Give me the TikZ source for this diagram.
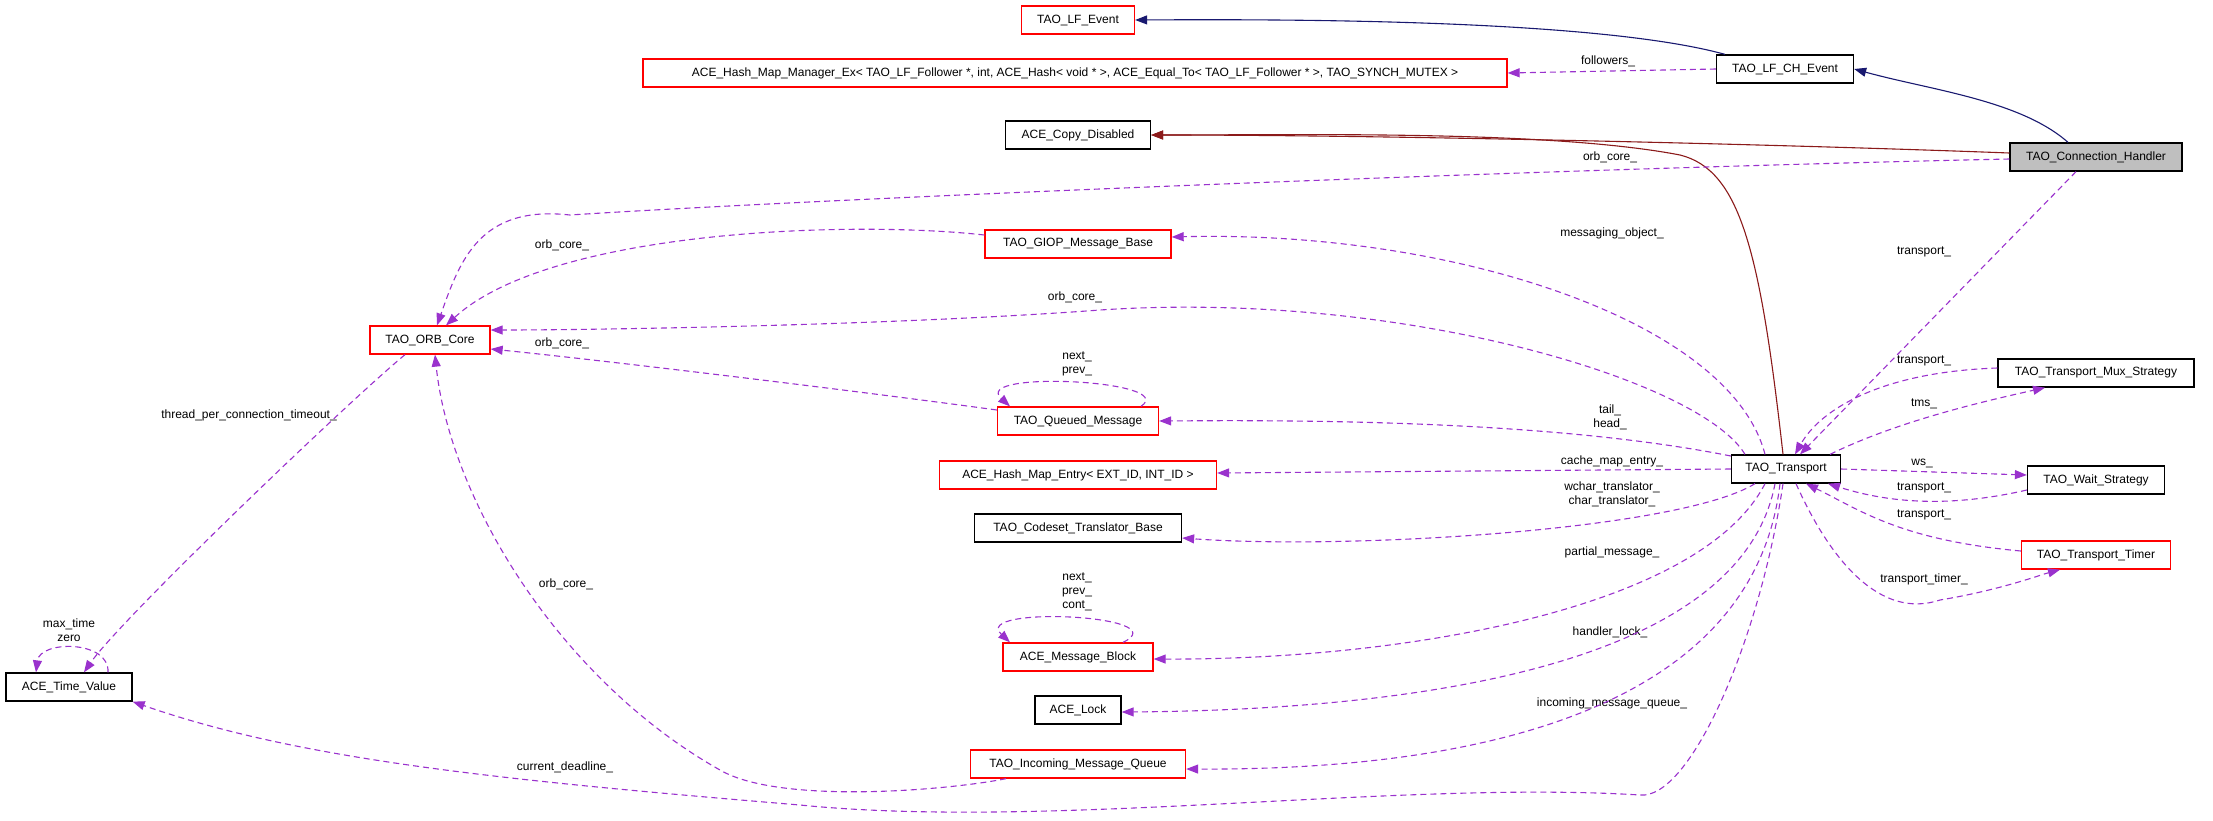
\documentclass[tikz,border=0pt]{standalone}
\usepackage{fontspec}
\setmainfont{Liberation Sans}
\usetikzlibrary{arrows.meta}
\definecolor{pur}{HTML}{9A32CD}
\definecolor{nav}{HTML}{191970}
\definecolor{drd}{HTML}{8B1A1A}
\tikzset{
  box/.style={draw=black,line width=1.3pt,inner sep=0pt,minimum height=28pt,font=\fontsize{12}{14}\selectfont},
  rbox/.style={box,draw=red},
  lbl/.style={font=\fontsize{12}{14}\selectfont,inner sep=0pt},
  uses/.style={pur,dashed,dash pattern=on 6pt off 4pt,line width=1.1pt,-{Triangle[length=12pt,width=9pt]}},
  inh/.style={nav,line width=1.1pt,-{Triangle[length=12pt,width=9pt]}},
  inr/.style={drd,line width=1.1pt,-{Triangle[length=12pt,width=9pt]}},
}
\begin{document}
\begin{tikzpicture}[x=1pt,y=-1pt]
\useasboundingbox (0,0) rectangle (2213,820);
% nodes
\node[rbox,minimum width=113pt] (lfe) at (1078,20) {TAO\_LF\_Event};
\node[rbox,minimum width=864pt] (hmm) at (1075,73) {ACE\_Hash\_Map\_Manager\_Ex< TAO\_LF\_Follower *, int, ACE\_Hash< void * >, ACE\_Equal\_To< TAO\_LF\_Follower * >, TAO\_SYNCH\_MUTEX >};
\node[box,minimum width=137pt] (lfch) at (1785,69) {TAO\_LF\_CH\_Event};
\node[box,minimum width=145pt] (acd) at (1078,135) {ACE\_Copy\_Disabled};
\node[box,fill=black!25,minimum width=172pt] (ch) at (2096,157) {TAO\_Connection\_Handler};
\node[rbox,minimum width=186pt] (giop) at (1078,244) {TAO\_GIOP\_Message\_Base};
\node[rbox,minimum width=120pt] (orb) at (430,340) {TAO\_ORB\_Core};
\node[box,minimum width=196pt] (mux) at (2096,373) {TAO\_Transport\_Mux\_Strategy};
\node[rbox,minimum width=161pt] (qm) at (1078,421) {TAO\_Queued\_Message};
\node[box,minimum width=109pt] (tr) at (1786,469) {TAO\_Transport};
\node[rbox,minimum width=277pt] (hme) at (1078,475) {ACE\_Hash\_Map\_Entry< EXT\_ID, INT\_ID >};
\node[box,minimum width=137pt] (ws) at (2096,480) {TAO\_Wait\_Strategy};
\node[box,minimum width=207pt] (cs) at (1078,528) {TAO\_Codeset\_Translator\_Base};
\node[rbox,minimum width=149pt] (tt) at (2096,555) {TAO\_Transport\_Timer};
\node[rbox,minimum width=150pt] (mb) at (1078,657) {ACE\_Message\_Block};
\node[box,minimum width=86pt] (lk) at (1078,710) {ACE\_Lock};
\node[rbox,minimum width=215pt] (imq) at (1078,764) {TAO\_Incoming\_Message\_Queue};
\node[box,minimum width=126pt] (tv) at (69,687) {ACE\_Time\_Value};
% labels
\node[lbl] (l1) at (1608,61) {followers\_};
\node[lbl] (l2) at (1610,157) {orb\_core\_};
\node[lbl] (l3) at (562,245) {orb\_core\_};
\node[lbl] (l4) at (1612,233) {messaging\_object\_};
\node[lbl] (l5) at (1075,297) {orb\_core\_};
\node[lbl] (l6) at (562,343) {orb\_core\_};
\node[lbl,align=center] (l7) at (1077,364) {next\_\\prev\_};
\node[lbl] (l8) at (1924,252) {transport\_};
\node[lbl] (l9) at (1924,361) {transport\_};
\node[lbl] (l10) at (1924,404) {tms\_};
\node[lbl,align=center] (l11) at (1610,417) {tail\_\\head\_};
\node[lbl] (l12) at (249,415) {thread\_per\_connection\_timeout\_};
\node[lbl] (l13) at (1612,461) {cache\_map\_entry\_};
\node[lbl] (l14) at (1922,463) {ws\_};
\node[lbl] (l15) at (1924,488) {transport\_};
\node[lbl,align=center] (l16) at (1612,494) {wchar\_translator\_\\char\_translator\_};
\node[lbl] (l17) at (1924,515) {transport\_};
\node[lbl] (l18) at (1612,552) {partial\_message\_};
\node[lbl,align=center] (l19) at (1077,592) {next\_\\prev\_\\cont\_};
\node[lbl] (l20) at (1924,579) {transport\_timer\_};
\node[lbl] (l21) at (566,584) {orb\_core\_};
\node[lbl,align=center] (l22) at (69,630) {max\_time\\zero};
\node[lbl] (l23) at (1610,632) {handler\_lock\_};
\node[lbl] (l24) at (1612,703) {incoming\_message\_queue\_};
\node[lbl] (l25) at (565,767) {current\_deadline\_};
% inheritance
\draw[inh] ([xshift=-28pt]ch.north) .. controls (2020,100) and (1930,90) .. (lfch.east);
\draw[inh] ([xshift=-60pt]lfch.north) .. controls (1600,20) and (1300,19) .. (lfe.east);
\draw[inr] ([yshift=4pt]ch.west) .. controls (1800,145) and (1400,135) .. (acd.east);
\draw[inr] ([xshift=-3pt]tr.north) .. controls (1760,250) and (1740,170) .. (1680,155) .. controls (1550,130) and (1300,135) .. (acd.east);
% usage
\draw[uses] (lfch.west) -- (hmm.east);
\draw[uses] ([yshift=-2pt]ch.west) .. controls (1500,170) and (800,200) .. (570,215) .. controls (480,205) and (460,260) .. ([xshift=7pt]orb.north);
\draw[uses] ([xshift=-20pt]ch.south) -- ([xshift=14pt]tr.north);
\draw[uses] ([yshift=9pt]giop.west) .. controls (850,220) and (550,230) .. ([xshift=16pt]orb.north);
\draw[uses] ([xshift=-21pt]tr.north) .. controls (1730,320) and (1450,230) .. ([yshift=7pt]giop.east);
\draw[uses] ([xshift=-41pt]tr.north) .. controls (1700,380) and (1400,290) .. (1100,310) .. controls (900,325) and (600,330) .. ([yshift=10pt]orb.east);
\draw[uses] ([yshift=11pt]qm.west) .. controls (850,390) and (600,360) .. ([yshift=-9pt]orb.east);
\draw[uses] ([xshift=63pt]qm.north) .. controls (1180,380) and (970,370) .. ([xshift=-68pt]qm.north);
\draw[uses] ([yshift=13pt]tr.west) .. controls (1550,420) and (1300,420) .. (qm.east);
\draw[uses] (tr.west) -- ([yshift=2pt]hme.east);
\draw[uses] ([xshift=-31pt]tr.south) .. controls (1680,530) and (1350,550) .. ([yshift=-10pt]cs.east);
\draw[uses] ([xshift=-21pt]tr.south) .. controls (1700,610) and (1400,660) .. ([yshift=-2pt]mb.east);
\draw[uses] ([xshift=45pt]mb.north) .. controls (1180,615) and (970,605) .. ([xshift=-68pt]mb.north);
\draw[uses] ([xshift=-11pt]tr.south) .. controls (1740,670) and (1400,710) .. ([yshift=-2pt]lk.east);
\draw[uses] ([xshift=-6pt]tr.south) .. controls (1750,740) and (1400,770) .. ([yshift=-5pt]imq.east);
\draw[uses] ([xshift=-3pt]tr.south) .. controls (1760,640) and (1690,800) .. (1640,795) .. controls (1400,780) and (1050,830) .. (800,805) .. controls (500,780) and (300,760) .. ([yshift=0pt]tv.south east);
\draw[uses] ([xshift=-72pt]imq.south) .. controls (950,790) and (780,805) .. (720,770) .. controls (560,680) and (450,500) .. ([xshift=5pt]orb.south);
\draw[uses] ([xshift=-25pt]orb.south) .. controls (350,400) and (120,620) .. ([xshift=15pt]tv.north);
\draw[uses] ([xshift=39pt]tv.north) .. controls (110,640) and (40,640) .. ([xshift=-33pt]tv.north);
\draw[uses] ([xshift=44pt]tr.north) .. controls (1900,420) and (1990,400) .. ([xshift=-51pt]mux.south);
\draw[uses] ([yshift=5pt]mux.west) .. controls (1880,372) and (1820,410) .. ([xshift=9pt]tr.north);
\draw[uses] (tr.east) -- ([yshift=5pt]ws.west);
\draw[uses] ([yshift=-10pt]ws.west) .. controls (1940,510) and (1880,500) .. ([xshift=42pt]tr.south);
\draw[uses] ([yshift=4pt]tt.west) .. controls (1900,540) and (1860,510) .. ([xshift=20pt]tr.south);
\draw[uses] ([xshift=10pt]tr.south) .. controls (1830,560) and (1880,620) .. (1940,600) .. controls (2000,590) and (2040,575) .. ([xshift=-36pt]tt.south);
\end{tikzpicture}
\end{document}
